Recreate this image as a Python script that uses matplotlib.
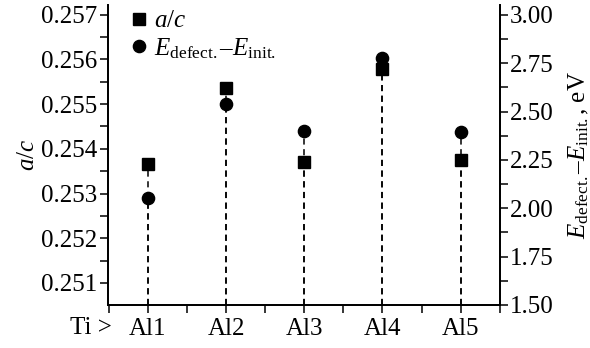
import matplotlib
matplotlib.use("Agg")
import matplotlib.pyplot as plt
from matplotlib.ticker import MultipleLocator

# ===================== data =====================
sites = ["Al1", "Al2", "Al3", "Al4", "Al5"]
a_over_c = [0.25366, 0.25537, 0.25370, 0.25579, 0.25376]
e_diff = [2.054, 2.537, 2.398, 2.775, 2.392]  # eV

plt.rcParams["font.family"] = ["Liberation Serif", "DejaVu Serif"]
plt.rcParams["mathtext.fontset"] = "custom"
plt.rcParams["mathtext.rm"] = "Liberation Serif"
plt.rcParams["mathtext.it"] = "Liberation Serif:italic"
plt.rcParams["font.size"] = 18

fig = plt.figure(figsize=(5.9, 3.48), dpi=100)
ax = fig.add_axes([0.183, 0.124, 0.664, 0.862])
ax2 = ax.twinx()

x = list(range(1, len(sites) + 1))
dash = dict(color="black", lw=1.1, linestyle=(0, (4, 3)), zorder=1)

ax.set_ylim(0.25051, 0.25722)
ax2.set_ylim(1.50, 3.052)
ax.set_xlim(0.49, 5.5)

ax.vlines(x, 0.25051, a_over_c, **dash)
ax2.vlines(x, 1.50, e_diff, **dash)

sq, = ax.plot(x, a_over_c, "s", color="black", ms=8.8, linestyle="none", zorder=3)
ci, = ax2.plot(x, e_diff, "o", color="black", ms=8.8, linestyle="none", zorder=3)

ax.set_xticks(x)
ax.set_xticklabels(sites)
ax.xaxis.set_minor_locator(MultipleLocator(0.5))
ax.yaxis.set_major_locator(MultipleLocator(0.001))
ax.yaxis.set_minor_locator(MultipleLocator(0.0005))
ax.yaxis.set_major_formatter(plt.FormatStrFormatter("%.3f"))
ax2.yaxis.set_major_locator(MultipleLocator(0.25))
ax2.yaxis.set_minor_locator(MultipleLocator(0.125))
ax2.yaxis.set_major_formatter(plt.FormatStrFormatter("%.2f"))

for a in (ax, ax2):
    a.spines["top"].set_visible(False)
    for s in a.spines.values():
        s.set_linewidth(1.3)
    a.tick_params(which="both", direction="out", length=5.5, width=1.1, labelsize=18)
    a.tick_params(axis="x", which="minor", labelbottom=False)
ax.tick_params(axis="y", pad=2)
ax2.tick_params(axis="y", pad=2)
ax.tick_params(axis="x", pad=4)

ax.set_ylabel("$a/c$", labelpad=2)
ax2.set_ylabel(r"$E_{\mathrm{defect.}}$–$E_{\mathrm{init.}}$, eV", labelpad=9)

fig.text(0.154, 0.057, "Ti >", ha="center", va="center", fontsize=18)

ax.legend([sq, ci], ["$a/c$", r"$E_{\mathrm{defect.}}$–$E_{\mathrm{init.}}$"],
          loc="upper left", frameon=False, handlelength=0.7, handletextpad=0.25,
          borderaxespad=0.0, borderpad=0.2, labelspacing=0.15, fontsize=18,
          bbox_to_anchor=(0.045, 1.0))

fig.savefig("out.png", dpi=100)
